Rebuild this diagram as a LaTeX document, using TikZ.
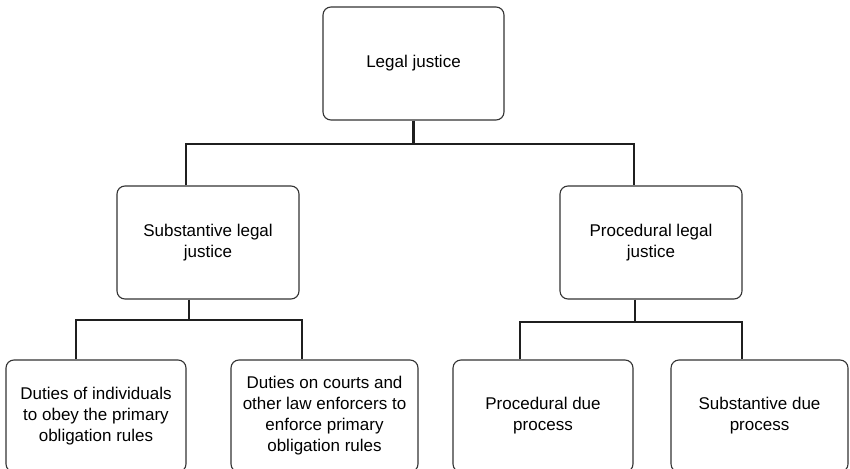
\documentclass[tikz,border=0pt]{standalone}
\usepackage{fontspec}
\setmainfont{Liberation Sans}

\tikzset{
  box/.style={draw=black!80, line width=1.1pt, rounded corners=8pt, align=center,
    minimum height=113pt, inner sep=0pt, font=\fontsize{17}{21}\selectfont},
  conn/.style={draw=black!88, line width=2.6pt}
}

\begin{document}
\begin{tikzpicture}[x=1pt,y=-1pt]
            \useasboundingbox (0,0) rectangle (850,468);
            \node[box, minimum width=181pt] (legal) at (413.5,63.5) {Legal justice};
            \node[box, minimum width=182pt] (subst) at (208,242.5) {Substantive legal\\justice};
            \node[box, minimum width=182pt] (proc) at (651,242.5) {Procedural legal\\justice};
            \node[box, minimum width=180pt, minimum height=112pt] (indiv) at (96,416) {Duties of individuals\\to obey the primary\\obligation rules};
            \node[box, minimum width=187pt, minimum height=112pt] (courts) at (324.5,416) {Duties on courts and\\other law enforcers to\\enforce primary\\obligation rules};
            \node[box, minimum width=180pt, minimum height=112pt] (pdue) at (543,416) {Procedural due\\process};
            \node[box, minimum width=177pt, minimum height=112pt] (sdue) at (759.5,416) {Substantive due\\process};
            \coordinate (barL) at (186,144);
            \coordinate (barR) at (634,144);
            \coordinate (subMid) at (189,320);
            \coordinate (subL) at (76,320);
            \coordinate (subR) at (302,320);
            \coordinate (procMid) at (635,322);
            \coordinate (procL) at (520,322);
            \coordinate (procR) at (742,322);
            \draw[conn] (legal.south) -- (legal.south |- barL);
            \draw[conn] (barL |- subst.north) -- (barL) -- (barR) -- (barR |- proc.north);
            \draw[conn] (subMid |- subst.south) -- (subMid);
            \draw[conn] (subL |- indiv.north) -- (subL) -- (subR) -- (subR |- courts.north);
            \draw[conn] (procMid |- proc.south) -- (procMid);
            \draw[conn] (procL |- pdue.north) -- (procL) -- (procR) -- (procR |- sdue.north);
        \end{tikzpicture}
\end{document}
